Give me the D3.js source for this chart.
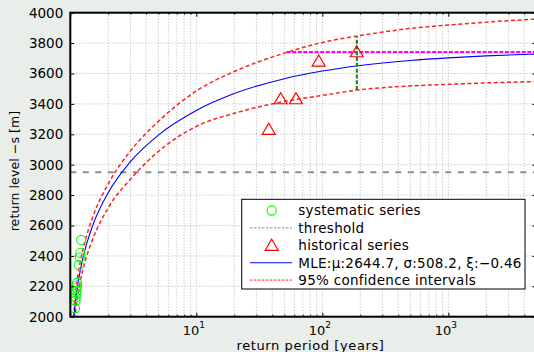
<!DOCTYPE html>
<html>
<head>
<meta charset="utf-8">
<script src="https://cdn.jsdelivr.net/npm/d3@7"></script>
<style>
  html, body { margin: 0; padding: 0; background: #e9eeeb; }
  svg { display: block; font-family: "DejaVu Sans", sans-serif; }
</style>
</head>
<body>
<svg id="chart" width="534" height="352"></svg>
<script>
// Return periods (years) at which the fitted curves are tabulated
const periods = [1.06, 1.08, 1.1, 1.15, 1.2, 1.3, 1.5, 2, 3, 5, 10, 20, 50, 100, 200, 500, 1000, 2000, 5000];
// MLE return level curve (GEV fit)
const mleLevels = [1955, 2034, 2098, 2217, 2305, 2432, 2596, 2816, 3020, 3195, 3357, 3468, 3566, 3616, 3653, 3686, 3703, 3716, 3728];
// 95% confidence bounds
const upperLevels = [1995, 2079, 2148, 2272, 2360, 2487, 2651, 2874, 3090, 3285, 3485, 3613, 3734, 3804, 3850, 3896, 3919, 3938, 3958];
const lowerLevels = [1895, 1969, 2031, 2147, 2232, 2354, 2506, 2716, 2905, 3087, 3252, 3338, 3416, 3456, 3493, 3518, 3529, 3538, 3547];

// Systematic (gauged) series with plotting positions
const sysPeriods = [1.09, 1.10, 1.105, 1.11, 1.115, 1.12, 1.125, 1.13, 1.17, 1.19, 1.20, 1.22];
const sysLevels  = [2055, 2105, 2128, 2150, 2170, 2190, 2205, 2222, 2340, 2390, 2420, 2505];

// Historical series
const histPeriods = [37.6, 46.7, 61.8, 93.6, 187.5];
const histLevels  = [3233, 3434, 3434, 3682, 3743];

// Threshold, perception level and interval at the largest historical event
const threshold = 2950;
const perception = { from: 52, to: 5000, level: 3740 };
const eventBand = { period: 188, low: 3491, high: 3847 };

// Axes
const yTicks = [2000, 2200, 2400, 2600, 2800, 3000, 3200, 3400, 3600, 3800, 4000];
const xMajor = [1, 10, 100, 1000];
const xLabelled = [10, 100, 1000];
const legendLabels = ["systematic series", "threshold", "historical series",
                      "MLE:\u03bc:2644.7, \u03c3:508.2, \u03be:\u22120.46", "95% confidence intervals"];

const svg = d3.select("#chart");
const L = 70.3, R = 536.4, T = 12.7, B = 316.7;

const x = d3.scaleLog().domain([1, 5000]).range([L, R]);
const y = d3.scaleLinear().domain([2000, 4000]).range([B, T]);

const xMinor = [];
for (let d = 1; d <= 1000; d *= 10) for (let k = 2; k <= 9; k++) if (d * k <= 5000) xMinor.push(d * k);

svg.append("defs").append("clipPath").attr("id", "plot")
  .append("rect").attr("x", L).attr("y", T).attr("width", R - L).attr("height", B - T);

svg.append("rect").attr("x", L).attr("y", T).attr("width", R - L).attr("height", B - T).attr("fill", "#fff");

// Grid
const grid = svg.append("g").attr("stroke", "#b4b4b4").attr("stroke-width", 1).attr("stroke-dasharray", "1,2");
grid.selectAll(".gx").data(xMajor.concat(xMinor)).join("line")
  .attr("x1", d => x(d)).attr("x2", d => x(d)).attr("y1", T).attr("y2", B);
grid.selectAll(".gy").data(yTicks.slice(1, -1)).join("line")
  .attr("x1", L).attr("x2", R).attr("y1", d => y(d)).attr("y2", d => y(d));

const plot = svg.append("g").attr("clip-path", "url(#plot)");

// Threshold
plot.append("line").attr("x1", L).attr("x2", R).attr("y1", y(threshold)).attr("y2", y(threshold))
  .attr("stroke", "#8c8c8c").attr("stroke-width", 2).attr("stroke-dasharray", "6,6.5");

const line = d3.line().x(d => x(d[0])).y(d => y(d[1])).curve(d3.curveMonotoneX);
const zip = (a, b) => a.map((v, i) => [v, b[i]]);

plot.append("path").attr("d", line(zip(periods, upperLevels)))
  .attr("fill", "none").attr("stroke", "#ff2020").attr("stroke-width", 1.5).attr("stroke-dasharray", "4,2.6");
plot.append("path").attr("d", line(zip(periods, lowerLevels)))
  .attr("fill", "none").attr("stroke", "#ff2020").attr("stroke-width", 1.5).attr("stroke-dasharray", "4,2.6");
plot.append("path").attr("d", line(zip(periods, mleLevels)))
  .attr("fill", "none").attr("stroke", "#0000ff").attr("stroke-width", 1.1);

// Perception level
plot.append("line")
  .attr("x1", x(perception.from)).attr("x2", x(perception.to))
  .attr("y1", y(perception.level)).attr("y2", y(perception.level))
  .attr("stroke", "#ff00ff").attr("stroke-width", 2.2).attr("stroke-dasharray", "4,1.6");

// Interval at the largest historical event
plot.append("line")
  .attr("x1", x(eventBand.period)).attr("x2", x(eventBand.period))
  .attr("y1", y(eventBand.low)).attr("y2", y(eventBand.high))
  .attr("stroke", "#1f8a1f").attr("stroke-width", 2.2).attr("stroke-dasharray", "4,1.8");

// Systematic series markers
plot.append("g").selectAll("circle").data(zip(sysPeriods, sysLevels)).join("circle")
  .attr("cx", d => x(d[0])).attr("cy", d => y(d[1])).attr("r", 4.6)
  .attr("fill", "none").attr("stroke", "#00ff00").attr("stroke-width", 1.1);

// Historical series markers
const tri = "M0,-6L6.5,5L-6.5,5Z";
plot.append("g").selectAll("path").data(zip(histPeriods, histLevels)).join("path")
  .attr("transform", d => `translate(${x(d[0])},${y(d[1])})`).attr("d", tri)
  .attr("fill", "none").attr("stroke", "#ff0000").attr("stroke-width", 1.2);

// Axes (ticks point inward)
const styleAxis = g => { g.select(".domain").remove(); g.selectAll("line").attr("stroke", "#000"); };

const yAxis = svg.append("g").attr("transform", `translate(${L},0)`)
  .call(d3.axisLeft(y).tickValues(yTicks).tickSizeInner(-4).tickSizeOuter(0).tickPadding(7).tickFormat(d3.format("d")))
  .call(styleAxis);
yAxis.selectAll("text").attr("font-size", 13.5).attr("font-family", "DejaVu Sans").attr("fill", "#000");

svg.append("g").attr("transform", `translate(${R},0)`)
  .call(d3.axisRight(y).tickValues(yTicks).tickSizeInner(-4).tickSizeOuter(0).tickFormat(""))
  .call(styleAxis);

svg.append("g").attr("transform", `translate(0,${B})`)
  .call(d3.axisBottom(x).tickValues(xMajor).tickSizeInner(-4).tickSizeOuter(0).tickFormat(""))
  .call(styleAxis);
svg.append("g").attr("transform", `translate(0,${B})`)
  .call(d3.axisBottom(x).tickValues(xMinor).tickSizeInner(-2).tickSizeOuter(0).tickFormat(""))
  .call(styleAxis);
svg.append("g").attr("transform", `translate(0,${T})`)
  .call(d3.axisTop(x).tickValues(xMajor).tickSizeInner(-4).tickSizeOuter(0).tickFormat(""))
  .call(styleAxis);
svg.append("g").attr("transform", `translate(0,${T})`)
  .call(d3.axisTop(x).tickValues(xMinor).tickSizeInner(-2).tickSizeOuter(0).tickFormat(""))
  .call(styleAxis);

// Power-of-ten labels
const xl = svg.append("g").selectAll("text").data(xLabelled).join("text")
  .attr("x", d => x(d) - 2.5).attr("y", 334.5).attr("text-anchor", "middle")
  .attr("font-size", 13).attr("fill", "#000");
xl.append("tspan").text("10");
xl.append("tspan").attr("dy", -6.5).attr("font-size", 9).text(d => Math.round(Math.log10(d)));

// Frame
svg.append("rect").attr("x", L).attr("y", T).attr("width", R - L).attr("height", B - T)
  .attr("fill", "none").attr("stroke", "#000").attr("stroke-width", 2);

// Axis titles
svg.append("text").attr("x", 310.5).attr("y", 349.5).attr("text-anchor", "middle")
  .attr("font-size", 13).attr("letter-spacing", 0.6).attr("fill", "#000").text("return period [years]");
svg.append("text").attr("transform", "translate(18.5,171) rotate(-90)").attr("text-anchor", "middle")
  .attr("font-size", 12.5).attr("letter-spacing", 0.1).attr("fill", "#000").text("return level \u2212s [m]");

// Legend
const lg = svg.append("g");
lg.append("rect").attr("x", 241.7).attr("y", 199.3).attr("width", 283.3).attr("height", 89.7)
  .attr("fill", "#fff").attr("stroke", "#000").attr("stroke-width", 1);
const rowY = i => 210.5 + i * 17.4;
const hx0 = 250, hx1 = 292, hc = 271.7;
lg.append("circle").attr("cx", hc).attr("cy", rowY(0)).attr("r", 4.6)
  .attr("fill", "none").attr("stroke", "#00ff00").attr("stroke-width", 1.1);
lg.append("line").attr("x1", hx0).attr("x2", hx1).attr("y1", rowY(1)).attr("y2", rowY(1))
  .attr("stroke", "#8c8c8c").attr("stroke-width", 1).attr("stroke-dasharray", "2.5,1.5");
lg.append("path").attr("transform", `translate(${hc},${rowY(2)})`).attr("d", tri)
  .attr("fill", "none").attr("stroke", "#ff0000").attr("stroke-width", 1.2);
lg.append("line").attr("x1", hx0).attr("x2", hx1).attr("y1", rowY(3)).attr("y2", rowY(3))
  .attr("stroke", "#0000ff").attr("stroke-width", 1.1);
lg.append("line").attr("x1", hx0).attr("x2", hx1).attr("y1", rowY(4)).attr("y2", rowY(4))
  .attr("stroke", "#ff2020").attr("stroke-width", 1).attr("stroke-dasharray", "2.5,1.5");
lg.selectAll("text.lab").data(legendLabels).join("text")
  .attr("x", 298.3).attr("y", (d, i) => rowY(i) + 4.8)
  .attr("font-size", 13.5).attr("letter-spacing", 0.28).attr("fill", "#000").text(d => d);
</script>
</body>
</html>
